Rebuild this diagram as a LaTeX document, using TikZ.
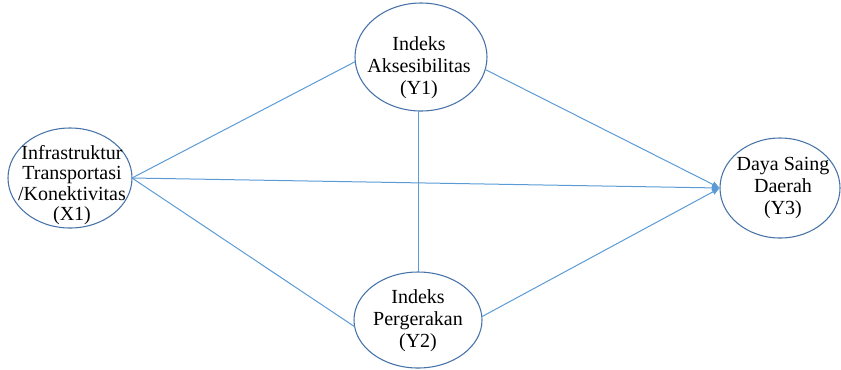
\documentclass[tikz,border=0pt]{standalone}
\usepackage{fontspec}
\setmainfont{Liberation Serif}
\usetikzlibrary{shapes.geometric,arrows.meta}
\definecolor{linecol}{RGB}{91,155,213}
\definecolor{ellcol}{RGB}{70,114,168}
\tikzset{
  var/.style={ellipse, draw=ellcol, line width=0.8pt, inner sep=0pt, outer sep=0pt},
  lbl/.style={align=center, font=\fontsize{15}{16.5}\selectfont, inner sep=0pt},
  lblx/.style={align=center, font=\fontsize{15}{15.4}\selectfont, inner sep=0pt},
  conn/.style={draw=linecol, line width=0.75pt},
  arr/.style={conn, -{Latex[length=6pt,width=5pt]}}
}
\begin{document}
\begin{tikzpicture}[x=0.75pt,y=-0.75pt]
\useasboundingbox (0,0) rectangle (841,369);
\node[var, minimum width=93pt, minimum height=75pt] (X1) at (70,178) {};
\node[var, minimum width=99pt, minimum height=81pt] (Y1) at (421,57) {};
\node[var, minimum width=96pt, minimum height=72pt] (Y2) at (418,320) {};
\node[var, minimum width=90pt, minimum height=75pt] (Y3) at (780,188) {};
\node[lblx] (tX1) at (72,185) {Infrastruktur\\Transportasi\\/Konektivitas\\(X1)};
\node[lbl] (tY1) at (419,68) {Indeks\\Aksesibilitas\\(Y1)};
\node[lbl] (tY2) at (418,321) {Indeks\\Pergerakan\\(Y2)};
\node[lbl] (tY3) at (783,188) {Daya Saing\\Daerah\\(Y3)};
\draw[conn] (X1.east) -- (Y1.184);
\draw[conn] (X1.east) -- (Y2.186);
\draw[arr] (X1.east) -- (Y3.west);
\draw[arr] (Y1.-11) -- (Y3.west);
\draw[arr] (Y2.3) -- (Y3.west);
\draw[conn] (Y2.north |- Y1.south) -- (Y2.north);
\end{tikzpicture}
\end{document}
